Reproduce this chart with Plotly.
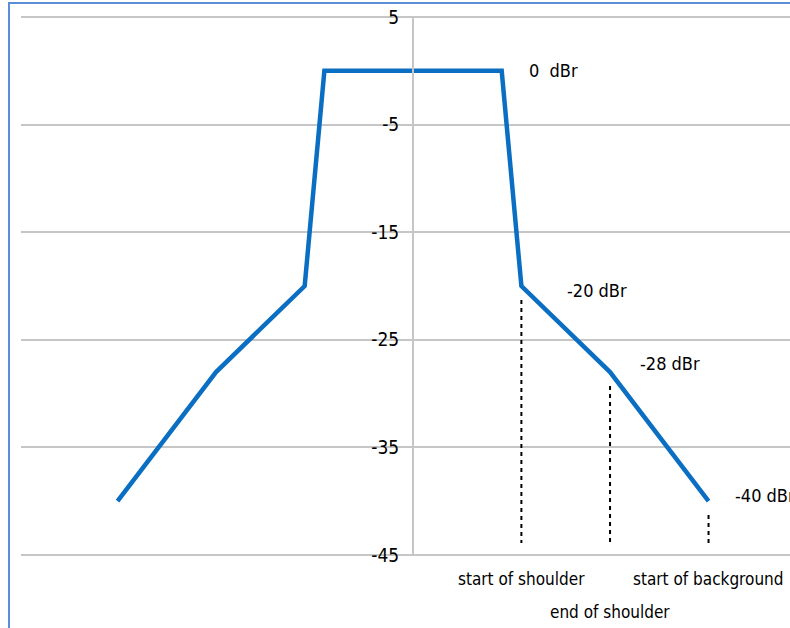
import plotly.graph_objects as go

# Spectral mask data (MHz offset vs dBr)
freq = [-30, -20, -11, -9, 9, 11, 20, 30]
level = [-40, -28, -20, 0, 0, -20, -28, -40]

y_ticks = [5, -5, -15, -25, -35, -45]

# Annotated points on the right side
label_x = [9, 11, 20, 30]
label_y = [0, -20, -28, -40]
label_text = ["0  dBr", "-20 dBr", "-28 dBr", "-40 dBr"]
label_xshift = [25, 44, 28, 24]
label_yshift = [0, -4, 9, 6]

# Region markers (dotted lines) and their bottom labels
marker_x = [11, 20, 30]
marker_y = [-20, -28, -40]
marker_text = ["start of shoulder", "end of shoulder", "start of background"]
marker_text_shift = [-23, -56, -23]

FONT = "Liberation Sans Narrow, DejaVu Sans Condensed, Arial Narrow, sans-serif"
BLUE = "#0a6fc2"

fig = go.Figure()

fig.add_trace(go.Scatter(
    x=freq, y=level, mode="lines",
    line=dict(color=BLUE, width=4.5),
    showlegend=False, hoverinfo="skip",
))

for mx, my in zip(marker_x, marker_y):
    fig.add_trace(go.Scatter(
        x=[mx, mx], y=[my - 1.3, -43.9], mode="lines",
        line=dict(color="black", width=2, dash="4px,4px"),
        showlegend=False, hoverinfo="skip",
    ))

annotations = []
for x, y, t, xs, ys in zip(label_x, label_y, label_text, label_xshift, label_yshift):
    annotations.append(dict(
        x=x, y=y, xref="x", yref="y", text=t, showarrow=False,
        xanchor="left", yanchor="middle", xshift=xs, yshift=ys,
        font=dict(family=FONT, size=18, color="black"),
    ))
for x, t, ys in zip(marker_x, marker_text, marker_text_shift):
    annotations.append(dict(
        x=x, y=0, xref="x", yref="paper", text=t, showarrow=False,
        xanchor="center", yanchor="middle", yshift=ys,
        font=dict(family=FONT, size=17, color="black"),
    ))

fig.update_layout(
    width=790, height=628,
    margin=dict(l=21, r=0, t=16, b=72),
    paper_bgcolor="white", plot_bgcolor="white",
    showlegend=False,
    annotations=annotations,
    xaxis=dict(
        range=[-39.8, 38.27], showgrid=False, zeroline=False,
        showticklabels=False, showline=False, ticks="",
    ),
    yaxis=dict(
        range=[-45.1, 5.1], tickvals=y_ticks, ticktext=[str(v) for v in y_ticks],
        anchor="free", position=0.5098,
        showgrid=True, gridcolor="#c6c6c6", gridwidth=2,
        zeroline=False, showline=True, linecolor="#c6c6c6", linewidth=2,
        ticks="", ticklabelstandoff=9,
        tickfont=dict(family=FONT, size=19, color="black"),
    ),
    shapes=[dict(
        type="rect", xref="paper", yref="paper",
        x0=-0.0156, x1=1.2, y0=-0.4, y1=1.0242,
        line=dict(color="#5b8ed6", width=2), fillcolor="rgba(0,0,0,0)",
        layer="above",
    )],
)

fig.write_html(
    "out.html",
    config={"displayModeBar": False},
    post_script="document.body.style.margin='0';document.body.style.overflow='hidden';",
)
